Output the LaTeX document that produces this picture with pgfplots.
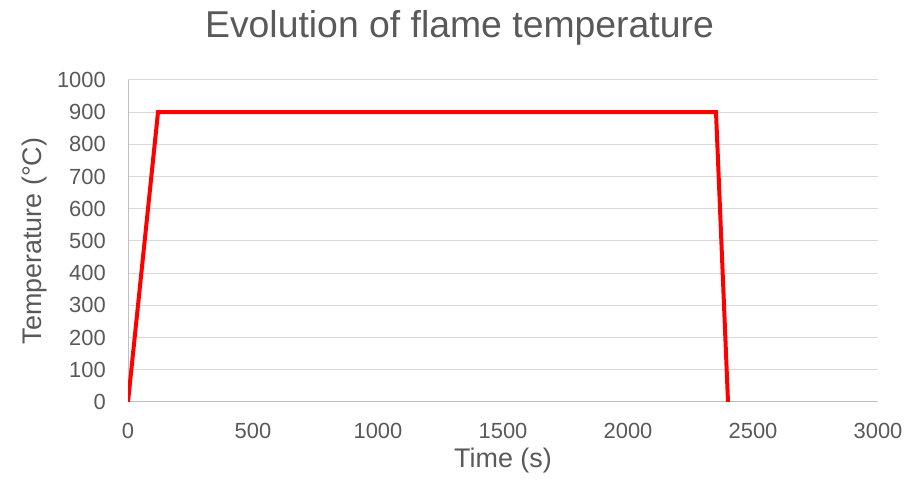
\documentclass[border=0pt]{standalone}
\usepackage{pgfplots}
\pgfplotsset{compat=1.18}
\usepackage{fontspec}
\setmainfont{Liberation Sans}
\definecolor{txt}{HTML}{595959}
\definecolor{grd}{HTML}{D9D9D9}
\definecolor{axl}{HTML}{BFBFBF}
\begin{document}
\begin{tikzpicture}[x=1bp,y=1bp]
\useasboundingbox (0,0) rectangle (919,481);
\node[text=txt, font=\fontsize{37.5}{44}\selectfont, anchor=base] at (459.5,443) {Evolution of flame temperature};
\begin{axis}[
  at={(128bp,79bp)}, anchor=south west,
  scale only axis, width=750bp, height=322bp,
  xmin=0, xmax=3000, ymin=0, ymax=1000,
  xtick distance=500, ytick distance=100,
  ymajorgrids, grid style={grd, line width=1bp},
  axis x line*=bottom, axis y line*=left,
  axis line style={axl, line width=1bp, -},
  major tick length=0pt,
  /pgf/number format/1000 sep={},
  /pgf/number format/assume math mode=true,
  ticklabel style={text=txt, font=\fontsize{22}{26}\selectfont, inner sep=0pt},
  xticklabel style={anchor=north, yshift=-21bp},
  yticklabel style={anchor=east, xshift=-22bp},
  xlabel={Time (s)}, ylabel={Temperature (°C)},
  label style={text=txt, font=\fontsize{27}{32}\selectfont},
  xlabel style={at={(axis description cs:0.5,0)}, anchor=base, yshift=-66bp},
  ylabel style={at={(axis description cs:0,0.5)}, anchor=base, rotate=0, yshift=86bp},
]
\addplot[red, line width=4bp, line join=miter] coordinates {
  (0,0) (120,900) (2352,900) (2400,0)
};
\end{axis}
\end{tikzpicture}
\end{document}
